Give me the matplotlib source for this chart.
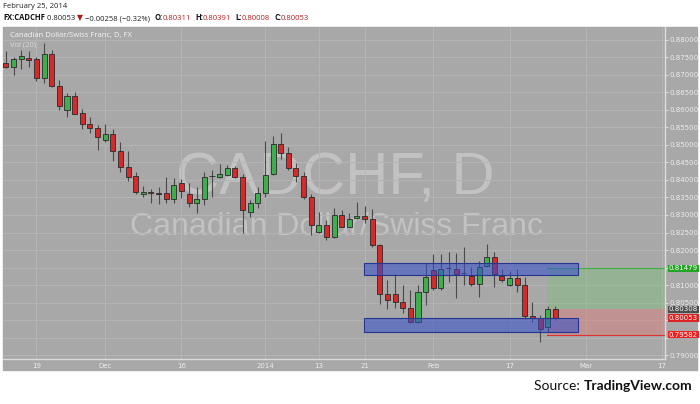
import numpy as np
import matplotlib.pyplot as plt
from matplotlib.patches import Rectangle

# daily candles, Nov 13 2013 .. Feb 25 2014 (open, high, low, close)
opens = [0.8735, 0.8724, 0.8745, 0.8749, 0.8745, 0.8691, 0.8759, 0.8669, 0.8600, 0.8640,
         0.8591, 0.8559, 0.8549, 0.8514, 0.8531, 0.8483, 0.8438, 0.8411, 0.8359, 0.8367,
         0.8362, 0.8362, 0.8347, 0.8392, 0.8359, 0.8333, 0.8345, 0.8411, 0.8409, 0.8415,
         0.8433, 0.8408, 0.8309, 0.8333, 0.8364, 0.8416, 0.8503, 0.8476, 0.8433, 0.8411,
         0.8352, 0.8251, 0.8271, 0.8236, 0.8300, 0.8267, 0.8291, 0.8297, 0.8289, 0.8213,
         0.8074, 0.8074, 0.8052, 0.8033, 0.7995, 0.8079, 0.8143, 0.8092, 0.8149, 0.8145,
         0.8133, 0.8126, 0.8102, 0.8154, 0.8179, 0.8127, 0.8100, 0.8119, 0.8100, 0.8012,
         0.8007, 0.7981, 0.80311]
highs = [0.8769, 0.8751, 0.8771, 0.8769, 0.8752, 0.8792, 0.8771, 0.8686, 0.8649, 0.8652,
         0.8603, 0.8581, 0.8557, 0.8560, 0.8545, 0.8509, 0.8484, 0.8424, 0.8383, 0.8374,
         0.8381, 0.8409, 0.8407, 0.8402, 0.8391, 0.8381, 0.8424, 0.8429, 0.8446, 0.8443,
         0.8440, 0.8417, 0.8343, 0.8380, 0.8512, 0.8527, 0.8533, 0.8495, 0.8448, 0.8424,
         0.8359, 0.8309, 0.8286, 0.8319, 0.8314, 0.8307, 0.8338, 0.8326, 0.8316, 0.8217,
         0.8114, 0.8131, 0.8100, 0.8086, 0.8100, 0.8162, 0.8189, 0.8189, 0.8195, 0.8192,
         0.8209, 0.8152, 0.8169, 0.8217, 0.8195, 0.8145, 0.8141, 0.8145, 0.8124, 0.8052,
         0.8014, 0.8040, 0.80391]
lows = [0.8720, 0.8700, 0.8716, 0.8722, 0.8683, 0.8676, 0.8665, 0.8600, 0.8579, 0.8588,
        0.8545, 0.8533, 0.8486, 0.8509, 0.8455, 0.8424, 0.8398, 0.8360, 0.8352, 0.8334,
        0.8331, 0.8334, 0.8333, 0.8348, 0.8324, 0.8307, 0.8329, 0.8352, 0.8405, 0.8411,
        0.8405, 0.8248, 0.8295, 0.8321, 0.8352, 0.8414, 0.8459, 0.8429, 0.8395, 0.8346,
        0.8243, 0.8248, 0.8229, 0.8233, 0.8265, 0.8265, 0.8289, 0.8276, 0.8209, 0.8046,
        0.8031, 0.8034, 0.8020, 0.7992, 0.7992, 0.8043, 0.8086, 0.8086, 0.8109, 0.8062,
        0.8100, 0.8097, 0.8067, 0.8152, 0.8095, 0.8109, 0.8097, 0.8081, 0.8002, 0.7995,
        0.7938, 0.7967, 0.80008]
closes = [0.8724, 0.8746, 0.8754, 0.8742, 0.8691, 0.8759, 0.8669, 0.8612, 0.8640, 0.8589,
          0.8559, 0.8548, 0.8522, 0.8531, 0.8483, 0.8436, 0.8409, 0.8367, 0.8367, 0.8362,
          0.8361, 0.8347, 0.8385, 0.8369, 0.8333, 0.8346, 0.8409, 0.8410, 0.8416, 0.8433,
          0.8408, 0.8313, 0.8333, 0.8364, 0.8414, 0.8503, 0.8476, 0.8433, 0.8411, 0.8352,
          0.8271, 0.8271, 0.8236, 0.8300, 0.8267, 0.8289, 0.8297, 0.8288, 0.8213, 0.8074,
          0.8056, 0.8052, 0.8033, 0.7995, 0.8081, 0.8124, 0.8092, 0.8145, 0.8148, 0.8131,
          0.8133, 0.8102, 0.8152, 0.8179, 0.8131, 0.8114, 0.8119, 0.8100, 0.8012, 0.8007,
          0.7974, 0.80311, 0.80053]

tick_pos = [4, 13, 23, 34, 41, 47, 56, 66, 76, 86]
tick_labels = ['19', 'Dec', '16', '2014', '13', '21', 'Feb', '17', 'Mar', '17']
price_ticks = np.arange(0.790, 0.8801, 0.005)
hidden_ticks = [0.795, 0.800]   # covered by the price badges

# drawn boxes (support / resistance) and long position tool
upper_band = (0.81286, 0.81620)
lower_band = (0.79666, 0.80049)
band_span = (46.9, 75.0)
entry, target, stop = 0.80308, 0.81479, 0.79582
pos_start = 70.9
last_price = 0.80053

bg = '#a8a8a8'
txt = '#ececec'
red = '#d42a2a'
green = '#3fae4c'

fig = plt.figure(figsize=(7, 4.04), dpi=100)
W, H = 700, 404
fig.patches.append(Rectangle((3 / W, (H - 370) / H), 694 / W, 343 / H,
                             transform=fig.transFigure, color=bg, zorder=-5))

ax = fig.add_axes([3 / W, (H - 359) / H, 662 / W, 332 / H])
ax.set_facecolor(bg)
ax.set_xlim(-0.39, 86.37)
ax.set_ylim(0.78886, 0.88371)

for s in ['top', 'left']:
    ax.spines[s].set_visible(False)
for s in ['right', 'bottom']:
    ax.spines[s].set_color('#dcdcdc')
    ax.spines[s].set_linewidth(1)

ax.yaxis.tick_right()
ax.set_yticks(price_ticks)
ax.set_yticklabels(['' if any(abs(p - h) < 1e-6 for h in hidden_ticks) else '%.5f' % p
                    for p in price_ticks])
ax.set_xticks(tick_pos)
ax.set_xticklabels(tick_labels)
ax.tick_params(axis='y', length=2, color='#dcdcdc', labelsize=5, labelcolor=txt, pad=1.5)
ax.tick_params(axis='x', length=0, labelsize=5, labelcolor=txt, pad=3)
ax.grid(color='#b5b5b5', linewidth=0.7)
ax.set_axisbelow(True)

# watermark (behind the candles)
ax.text(335 / W, 1 - 195 / H, 'CADCHF, D', transform=fig.transFigure, ha='center',
        va='baseline', fontsize=43, color='white', alpha=0.3, family='Liberation Sans', zorder=0.5)
ax.text(337 / W, 1 - 235 / H, 'Canadian Dollar/Swiss Franc', transform=fig.transFigure,
        ha='center', va='baseline', fontsize=23, color='white', alpha=0.3,
        family='Liberation Sans', zorder=0.5)

# position tool
x_right = ax.get_xlim()[1]
ax.add_patch(Rectangle((pos_start, entry), x_right - pos_start, target - entry,
                       facecolor=(0.45, 0.78, 0.45, 0.35), edgecolor='none', zorder=1))
ax.add_patch(Rectangle((pos_start, stop), x_right - pos_start, entry - stop,
                       facecolor=(0.9, 0.45, 0.45, 0.4), edgecolor='none', zorder=1))
ax.plot([pos_start, x_right], [target, target], color='#3cb043', lw=0.8, zorder=1)
ax.plot([pos_start, x_right], [stop, stop], color='#e03030', lw=0.8, zorder=1)

# candles
for i in range(len(opens)):
    o, h, l, c = opens[i], highs[i], lows[i], closes[i]
    col = green if c >= o else red
    ax.vlines(i, l, h, color='#4a4a4a', lw=0.8, zorder=2)
    body = max(abs(c - o), 0.00006)
    ax.bar(i, body, bottom=min(o, c), width=0.66, color=col,
           edgecolor='#2a2a2a', linewidth=0.6, zorder=3)

# boxes
for lo, hi in [upper_band, lower_band]:
    ax.add_patch(Rectangle((band_span[0], lo), band_span[1] - band_span[0], hi - lo,
                           facecolor=(0.2, 0.3, 0.8, 0.55), edgecolor='#26368f',
                           linewidth=0.8, zorder=4))

# price badges
for val, col in [(target, '#23a523'), (entry, '#4d4d4d'), (last_price, '#dd2222'), (stop, '#ee2020')]:
    ax.text(1.006, val, '%.5f' % val, transform=ax.get_yaxis_transform(), ha='left', va='center',
            fontsize=5, color='white', zorder=6,
            bbox=dict(boxstyle='square,pad=0.1', facecolor=col, edgecolor='none'))

# labels inside chart
fig.text(10 / W, 1 - 36 / H, 'Canadian Dollar/Swiss Franc, D, FX', fontsize=5.5,
         color='#f4f4f4', va='center', family='Open Sans')
fig.text(10 / W, 1 - 45 / H, 'Vol (20)', fontsize=5.5, color='#dddddd', va='center',
         family='Open Sans')

# header
hf = ['Open Sans', 'DejaVu Sans']
fig.text(3 / W, 1 - 7 / H, 'February 25, 2014', fontsize=5.5, va='center', family=hf, color='#222222')
parts = [('FX:CADCHF', '#111111', 'bold', 0), (' 0.80053', '#222222', 'normal', 0),
         (' \u25bc', '#b01515', 'normal', 0), (' \u22120.00258 (\u22120.32%)', '#222222', 'normal', 0),
         ('O:', '#111111', 'bold', 3), ('0.80311', '#b52020', 'normal', 0),
         ('H:', '#111111', 'bold', 3), ('0.80391', '#b52020', 'normal', 0),
         ('L:', '#111111', 'bold', 3), ('0.80008', '#b52020', 'normal', 0),
         ('C:', '#111111', 'bold', 3), ('0.80053', '#b52020', 'normal', 0)]
prev = fig.text(3 / W, 1 - 20 / H, parts[0][0], fontsize=5.5, fontweight='bold',
                va='baseline', family=hf, color=parts[0][1])
for s, col, wt, gap in parts[1:]:
    prev = ax.annotate(s, xy=(1, 0), xycoords=prev, xytext=(gap, 0), textcoords='offset points',
                       va='bottom', ha='left', fontsize=5.5, fontweight=wt, color=col,
                       family=hf, annotation_clip=False)

# source
src = fig.text(692 / W, 1 - 386 / H, 'TradingView.com', fontsize=10, fontweight='bold',
               ha='right', va='center', family='Lato', color='#111111')
ax.annotate('Source: ', xy=(0, 0), xycoords=src, ha='right', va='bottom', fontsize=10,
            family='Lato', color='#111111', annotation_clip=False)

fig.savefig('out.png', dpi=100)
